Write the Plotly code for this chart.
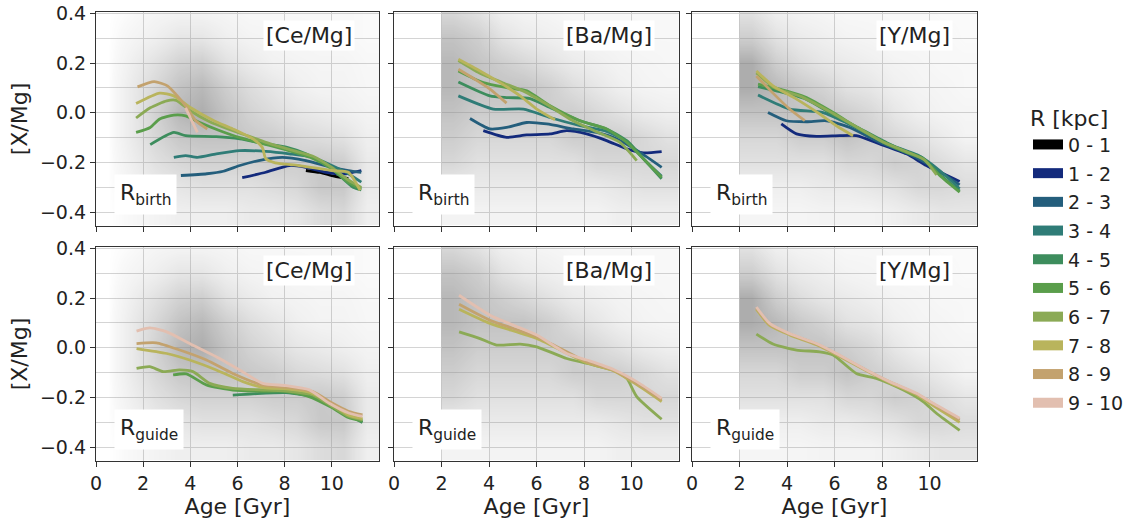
import plotly.graph_objects as go
from plotly.subplots import make_subplots

# ---------------- legend bins ----------------
BIN_LABELS = ["0 - 1", "1 - 2", "2 - 3", "3 - 4", "4 - 5", "5 - 6", "6 - 7", "7 - 8", "8 - 9", "9 - 10"]
BIN_COLORS = ["#000000", "#132a7c", "#245e7c", "#2f7c77", "#3d8d5d", "#5a9e4b",
              "#8baa55", "#b9b45c", "#c3a26e", "#e2bfb0"]

AGE_TICKS = [0, 2, 4, 6, 8, 10]
XMG_TICKS = [-0.4, -0.2, 0.0, 0.2, 0.4]
ELEMENT_LABELS = ["[Ce/Mg]", "[Ba/Mg]", "[Y/Mg]"]
RADIUS_LABELS = ["R<sub>birth</sub>", "R<sub>guide</sub>"]

# ---------------- background star density ----------------
DENS_XMG = [0.4, 0.3, 0.2, 0.1, 0.0, -0.1, -0.2, -0.3, -0.4]          # row centres, top -> bottom
CE_DENS_AGE_EDGES = [0, 1, 2, 3, 4, 5, 6, 7, 8, 9, 10, 11, 12]
CE_DENS = [
    [0, 0.3, 0.8, 1.0, 1.0, 0.8, 0.5, 0.5, 0.5, 0.5, 0.5, 0.3],
    [0, 0.8, 1.5, 2.5, 2.5, 1.5, 1.0, 0.8, 0.6, 0.5, 0.5, 0.3],
    [0, 1.5, 3.0, 4.5, 5.0, 3.0, 2.0, 1.2, 1.0, 0.8, 0.8, 0.5],
    [0, 2.0, 4.0, 6.0, 7.0, 5.0, 3.5, 2.5, 1.5, 1.0, 1.0, 0.6],
    [0, 2.0, 4.5, 7.0, 8.0, 6.0, 4.5, 3.5, 2.5, 2.0, 1.5, 1.0],
    [0, 2.0, 4.0, 5.5, 6.0, 6.0, 5.5, 5.0, 4.0, 3.5, 3.0, 1.5],
    [0, 1.5, 3.0, 4.0, 4.5, 4.5, 4.5, 5.0, 5.0, 5.5, 5.0, 2.0],
    [0, 1.0, 2.0, 2.5, 3.0, 3.0, 3.0, 3.5, 4.0, 5.5, 5.5, 2.0],
    [0, 0.5, 1.0, 1.5, 1.5, 1.5, 2.0, 2.0, 2.5, 3.5, 4.0, 1.5],
]
BAY_DENS_AGE_EDGES = [2, 3, 4, 5, 6, 7, 8, 9, 10, 11, 12]
BA_DENS = [
    [4.0, 3.0, 1.5, 1.0, 0.8, 0.5, 0.5, 0.5, 0.5, 0.5],
    [6.0, 5.0, 3.0, 2.0, 1.5, 1.0, 0.8, 0.7, 0.5, 0.5],
    [7.0, 6.0, 5.0, 4.0, 3.0, 2.0, 1.5, 1.0, 0.8, 0.6],
    [7.0, 6.0, 6.0, 6.0, 5.0, 3.5, 2.5, 1.5, 1.0, 0.8],
    [6.0, 5.0, 5.0, 5.0, 5.0, 5.0, 4.0, 3.0, 2.0, 1.5],
    [5.0, 4.0, 4.0, 4.0, 4.0, 5.0, 5.0, 5.0, 4.0, 3.0],
    [4.0, 3.0, 3.0, 3.0, 3.0, 3.0, 4.0, 4.0, 4.0, 4.0],
    [2.0, 2.0, 2.0, 2.0, 2.0, 2.0, 2.0, 2.5, 3.0, 3.0],
    [1.0, 1.0, 1.0, 1.0, 1.0, 1.0, 1.0, 1.5, 1.5, 1.5],
]
Y_DENS = [
    [3.0, 1.5, 1.0, 0.8, 0.5, 0.5, 0.5, 0.5, 0.3, 0.3],
    [5.0, 3.0, 2.0, 1.5, 1.0, 0.8, 0.5, 0.5, 0.5, 0.3],
    [8.0, 5.0, 3.5, 2.5, 2.0, 1.5, 1.0, 0.8, 0.5, 0.5],
    [8.0, 7.0, 5.5, 4.5, 3.0, 2.5, 1.5, 1.0, 0.8, 0.5],
    [6.0, 6.0, 6.0, 6.0, 5.0, 4.0, 2.5, 1.5, 1.0, 0.8],
    [4.0, 4.0, 5.0, 5.0, 6.0, 5.0, 4.0, 3.0, 2.0, 1.0],
    [3.0, 3.0, 3.0, 3.0, 4.0, 4.0, 5.0, 4.5, 3.5, 2.5],
    [1.5, 1.5, 1.5, 2.0, 2.0, 2.5, 3.0, 4.0, 4.0, 3.5],
    [0.8, 0.8, 0.8, 1.0, 1.0, 1.0, 1.5, 2.0, 2.5, 2.5],
]

# ---------------- running medians: [Ce/Mg] vs R_birth ----------------
CE_BIRTH_AGE_0_1 = [8.9, 9.5, 10.1, 10.7]
CE_BIRTH_VAL_0_1 = [-0.232, -0.240, -0.255, -0.265]
CE_BIRTH_AGE_1_2 = [6.2, 7.2, 8.2, 8.9, 9.75, 10.6, 11.25]
CE_BIRTH_VAL_1_2 = [-0.261, -0.239, -0.212, -0.219, -0.239, -0.245, -0.232]
CE_BIRTH_AGE_2_3 = [3.6, 4.7, 5.4, 6.1, 6.9, 7.9, 8.9, 10.0, 10.7, 11.25]
CE_BIRTH_VAL_2_3 = [-0.252, -0.245, -0.235, -0.212, -0.192, -0.179, -0.192, -0.219, -0.232, -0.239]
CE_BIRTH_AGE_3_4 = [3.3, 3.8, 4.3, 5.1, 6.1, 7.2, 8.2, 9.2, 10.0, 10.7, 11.25]
CE_BIRTH_VAL_3_4 = [-0.179, -0.172, -0.179, -0.165, -0.152, -0.155, -0.165, -0.179, -0.212, -0.245, -0.279]
CE_BIRTH_AGE_4_5 = [2.3, 3.3, 3.8, 5.1, 6.1, 7.2, 8.1, 8.9, 10.0, 10.9, 11.25]
CE_BIRTH_VAL_4_5 = [-0.128, -0.079, -0.092, -0.096, -0.105, -0.125, -0.139, -0.165, -0.225, -0.299, -0.310]
CE_BIRTH_AGE_5_6 = [1.7, 2.3, 2.7, 3.3, 3.8, 4.4, 5.2, 6.1, 7.1, 8.1, 9.1, 10.0, 10.7, 11.25]
CE_BIRTH_VAL_5_6 = [-0.079, -0.059, -0.025, -0.009, -0.012, -0.039, -0.070, -0.100, -0.125, -0.150, -0.180, -0.225, -0.280, -0.305]
CE_BIRTH_AGE_6_7 = [1.7, 2.3, 3.0, 3.4, 4.0, 4.8, 5.6, 6.5, 7.4, 8.3, 9.2, 10.0, 10.7, 11.25]
CE_BIRTH_VAL_6_7 = [-0.021, 0.020, 0.048, 0.050, 0.008, -0.035, -0.065, -0.095, -0.125, -0.150, -0.175, -0.220, -0.270, -0.300]
CE_BIRTH_AGE_7_8 = [1.7, 2.7, 3.3, 4.0, 5.0, 5.8, 6.65, 7.05, 7.2, 7.6, 8.6, 10.0, 10.7, 11.2]
CE_BIRTH_VAL_7_8 = [0.037, 0.079, 0.068, 0.021, -0.032, -0.065, -0.105, -0.139, -0.185, -0.201, -0.212, -0.232, -0.239, -0.312]
CE_BIRTH_AGE_8_9 = [1.76, 2.47, 3.03, 3.38, 3.8, 4.23, 4.72]
CE_BIRTH_VAL_8_9 = [0.104, 0.125, 0.108, 0.075, 0.028, -0.032, -0.065]
CE_BIRTH_AGE_9_10 = [3.8, 4.0, 4.3]
CE_BIRTH_VAL_9_10 = [0.020, -0.020, -0.079]

# ---------------- [Ba/Mg] vs R_birth ----------------
BA_BIRTH_AGE_1_2 = [3.76, 4.74, 5.59, 6.57, 7.27, 8.11, 8.95, 9.8, 10.5, 11.27]
BA_BIRTH_VAL_1_2 = [-0.072, -0.099, -0.089, -0.085, -0.072, -0.085, -0.112, -0.145, -0.161, -0.156]
BA_BIRTH_AGE_2_3 = [3.2, 4.04, 4.74, 5.59, 6.43, 7.55, 8.53, 9.38, 10.36, 11.27]
BA_BIRTH_VAL_2_3 = [-0.023, -0.065, -0.059, -0.039, -0.045, -0.065, -0.079, -0.105, -0.159, -0.219]
BA_BIRTH_AGE_3_4 = [2.71, 4.18, 5.45, 6.57, 7.83, 8.95, 9.8, 10.6, 11.27]
BA_BIRTH_VAL_3_4 = [0.068, 0.015, 0.015, -0.019, -0.052, -0.075, -0.115, -0.195, -0.255]
BA_BIRTH_AGE_4_5 = [2.71, 4.04, 4.74, 5.73, 6.57, 7.83, 8.95, 9.8, 10.64, 11.27]
BA_BIRTH_VAL_4_5 = [0.124, 0.068, 0.061, 0.057, 0.021, -0.032, -0.065, -0.112, -0.199, -0.265]
BA_BIRTH_AGE_5_6 = [2.71, 3.76, 4.74, 5.59, 6.57, 7.83, 8.95, 9.8, 10.5, 11.27]
BA_BIRTH_VAL_5_6 = [0.168, 0.121, 0.101, 0.088, 0.028, -0.032, -0.065, -0.119, -0.185, -0.259]
BA_BIRTH_AGE_6_7 = [2.71, 3.6, 4.6, 5.5, 6.5, 7.5, 8.5, 9.5, 10.22]
BA_BIRTH_VAL_6_7 = [0.210, 0.160, 0.120, 0.085, 0.030, -0.030, -0.075, -0.118, -0.192]
BA_BIRTH_AGE_7_8 = [2.71, 3.62, 4.46, 5.31, 6.01, 6.78]
BA_BIRTH_VAL_7_8 = [0.215, 0.168, 0.121, 0.068, 0.015, -0.028]
BA_BIRTH_AGE_8_9 = [2.71, 3.4, 4.0, 4.74]
BA_BIRTH_VAL_8_9 = [0.175, 0.135, 0.098, 0.039]

# ---------------- [Y/Mg] vs R_birth ----------------
Y_BIRTH_AGE_1_2 = [3.76, 4.4, 5.24, 6.22, 6.92, 7.9, 9.03, 9.87, 11.27]
Y_BIRTH_VAL_1_2 = [-0.045, -0.085, -0.095, -0.092, -0.092, -0.125, -0.165, -0.212, -0.276]
Y_BIRTH_AGE_2_3 = [3.2, 3.97, 4.82, 5.66, 6.64, 7.9, 9.0, 10.0, 11.27]
Y_BIRTH_VAL_2_3 = [0.001, -0.032, -0.036, -0.032, -0.059, -0.119, -0.160, -0.210, -0.290]
Y_BIRTH_AGE_3_4 = [2.78, 4.11, 5.52, 6.5, 7.5, 8.5, 9.5, 10.4, 11.27]
Y_BIRTH_VAL_3_4 = [0.071, 0.015, 0.001, -0.040, -0.090, -0.135, -0.170, -0.230, -0.305]
Y_BIRTH_AGE_4_5 = [2.78, 3.7, 4.8, 5.9, 7.0, 8.2, 9.0, 9.7, 10.4, 11.27]
Y_BIRTH_VAL_4_5 = [0.105, 0.085, 0.055, -0.005, -0.060, -0.120, -0.155, -0.180, -0.245, -0.315]
Y_BIRTH_AGE_5_6 = [2.78, 3.69, 4.82, 5.94, 7.06, 8.19, 9.03, 9.73, 10.43, 11.27]
Y_BIRTH_VAL_5_6 = [0.115, 0.095, 0.061, 0.001, -0.065, -0.125, -0.159, -0.185, -0.252, -0.319]
Y_BIRTH_AGE_6_7 = [2.71, 3.5, 4.6, 5.7, 6.8, 8.0, 9.0, 9.8, 10.3]
Y_BIRTH_VAL_6_7 = [0.160, 0.100, 0.065, 0.010, -0.050, -0.115, -0.155, -0.190, -0.250]
Y_BIRTH_AGE_7_8 = [2.71, 3.41, 4.4, 5.38, 6.08, 6.78]
Y_BIRTH_VAL_7_8 = [0.168, 0.108, 0.055, -0.005, -0.052, -0.092]
Y_BIRTH_AGE_8_9 = [2.71, 3.41, 4.11, 4.75]
Y_BIRTH_VAL_8_9 = [0.148, 0.079, 0.015, -0.032]

# ---------------- [Ce/Mg] vs R_guide ----------------
CE_GUIDE_AGE_4_5 = [5.8, 6.65, 8.06, 9.33, 10.17, 11.3]
CE_GUIDE_VAL_4_5 = [-0.190, -0.185, -0.180, -0.200, -0.243, -0.300]
CE_GUIDE_AGE_5_6 = [3.27, 3.83, 4.68, 5.8, 7.0, 8.0, 9.0, 10.0, 10.7, 11.3]
CE_GUIDE_VAL_5_6 = [-0.109, -0.105, -0.149, -0.170, -0.175, -0.175, -0.195, -0.240, -0.280, -0.295]
CE_GUIDE_AGE_6_7 = [1.72, 2.28, 2.85, 3.55, 4.11, 4.82, 5.8, 7.22, 8.2, 9.2, 10.0, 10.7, 11.3]
CE_GUIDE_VAL_6_7 = [-0.083, -0.076, -0.096, -0.089, -0.096, -0.143, -0.163, -0.170, -0.175, -0.190, -0.235, -0.275, -0.290]
CE_GUIDE_AGE_7_8 = [1.72, 3.0, 3.97, 5.1, 6.23, 7.1, 8.1, 9.1, 10.0, 10.7, 11.3]
CE_GUIDE_VAL_7_8 = [-0.003, -0.023, -0.049, -0.089, -0.136, -0.160, -0.165, -0.180, -0.225, -0.270, -0.285]
CE_GUIDE_AGE_8_9 = [1.72, 2.56, 3.55, 4.68, 5.8, 7.07, 8.2, 9.19, 10.03, 10.7, 11.3]
CE_GUIDE_VAL_8_9 = [0.017, 0.020, -0.009, -0.049, -0.103, -0.150, -0.160, -0.176, -0.223, -0.255, -0.270]
CE_GUIDE_AGE_9_10 = [1.72, 2.28, 3.0, 3.97, 5.1, 6.09, 7.07, 8.06, 9.05, 9.89, 10.74, 11.3]
CE_GUIDE_VAL_9_10 = [0.067, 0.080, 0.064, 0.017, -0.036, -0.089, -0.143, -0.152, -0.169, -0.223, -0.263, -0.276]

# ---------------- [Ba/Mg] vs R_guide ----------------
BA_GUIDE_AGE_6_7 = [2.74, 3.62, 4.32, 5.31, 6.01, 7.27, 8.39, 9.24, 9.8, 10.22, 11.27]
BA_GUIDE_VAL_6_7 = [0.064, 0.037, 0.011, 0.015, 0.004, -0.043, -0.069, -0.090, -0.123, -0.196, -0.287]
BA_GUIDE_AGE_7_8 = [2.74, 4.04, 6.01, 8.11, 9.24, 10.22, 11.27]
BA_GUIDE_VAL_7_8 = [0.155, 0.098, 0.037, -0.060, -0.092, -0.148, -0.216]
BA_GUIDE_AGE_8_9 = [2.74, 4.04, 6.01, 8.11, 9.24, 10.22, 11.27]
BA_GUIDE_VAL_8_9 = [0.175, 0.111, 0.044, -0.056, -0.090, -0.143, -0.209]
BA_GUIDE_AGE_9_10 = [2.74, 4.04, 5.02, 6.01, 7.27, 8.11, 9.24, 10.22, 11.27]
BA_GUIDE_VAL_9_10 = [0.211, 0.131, 0.091, 0.051, -0.023, -0.049, -0.087, -0.136, -0.203]

# ---------------- [Y/Mg] vs R_guide ----------------
Y_GUIDE_AGE_6_7 = [2.71, 3.41, 4.4, 5.38, 5.94, 6.92, 7.76, 8.88, 9.73, 10.29, 11.27]
Y_GUIDE_VAL_6_7 = [0.055, 0.015, -0.009, -0.016, -0.029, -0.103, -0.123, -0.169, -0.216, -0.263, -0.332]
Y_GUIDE_AGE_7_8 = [2.71, 3.27, 4.11, 5.24, 6.08, 7.34, 8.32, 9.45, 10.15, 11.27]
Y_GUIDE_VAL_7_8 = [0.155, 0.090, 0.052, 0.012, -0.028, -0.092, -0.140, -0.188, -0.232, -0.300]
Y_GUIDE_AGE_8_9 = [2.71, 3.27, 4.11, 5.24, 6.08, 7.34, 8.32, 9.45, 10.15, 11.27]
Y_GUIDE_VAL_8_9 = [0.160, 0.095, 0.055, 0.015, -0.025, -0.090, -0.137, -0.185, -0.225, -0.290]
Y_GUIDE_AGE_9_10 = [2.71, 3.27, 4.11, 5.24, 6.08, 7.34, 8.32, 9.45, 10.15, 11.27]
Y_GUIDE_VAL_9_10 = [0.164, 0.098, 0.057, 0.017, -0.023, -0.089, -0.136, -0.183, -0.223, -0.283]

# (row, col) -> list of (bin index, ages, values)
PANEL_LINES = {
    (1, 1): [(0, CE_BIRTH_AGE_0_1, CE_BIRTH_VAL_0_1), (1, CE_BIRTH_AGE_1_2, CE_BIRTH_VAL_1_2),
             (2, CE_BIRTH_AGE_2_3, CE_BIRTH_VAL_2_3), (3, CE_BIRTH_AGE_3_4, CE_BIRTH_VAL_3_4),
             (4, CE_BIRTH_AGE_4_5, CE_BIRTH_VAL_4_5), (5, CE_BIRTH_AGE_5_6, CE_BIRTH_VAL_5_6),
             (6, CE_BIRTH_AGE_6_7, CE_BIRTH_VAL_6_7), (7, CE_BIRTH_AGE_7_8, CE_BIRTH_VAL_7_8),
             (8, CE_BIRTH_AGE_8_9, CE_BIRTH_VAL_8_9), (9, CE_BIRTH_AGE_9_10, CE_BIRTH_VAL_9_10)],
    (1, 2): [(1, BA_BIRTH_AGE_1_2, BA_BIRTH_VAL_1_2), (2, BA_BIRTH_AGE_2_3, BA_BIRTH_VAL_2_3),
             (3, BA_BIRTH_AGE_3_4, BA_BIRTH_VAL_3_4), (4, BA_BIRTH_AGE_4_5, BA_BIRTH_VAL_4_5),
             (5, BA_BIRTH_AGE_5_6, BA_BIRTH_VAL_5_6), (6, BA_BIRTH_AGE_6_7, BA_BIRTH_VAL_6_7),
             (7, BA_BIRTH_AGE_7_8, BA_BIRTH_VAL_7_8), (8, BA_BIRTH_AGE_8_9, BA_BIRTH_VAL_8_9)],
    (1, 3): [(1, Y_BIRTH_AGE_1_2, Y_BIRTH_VAL_1_2), (2, Y_BIRTH_AGE_2_3, Y_BIRTH_VAL_2_3),
             (3, Y_BIRTH_AGE_3_4, Y_BIRTH_VAL_3_4), (4, Y_BIRTH_AGE_4_5, Y_BIRTH_VAL_4_5),
             (5, Y_BIRTH_AGE_5_6, Y_BIRTH_VAL_5_6), (6, Y_BIRTH_AGE_6_7, Y_BIRTH_VAL_6_7),
             (7, Y_BIRTH_AGE_7_8, Y_BIRTH_VAL_7_8), (8, Y_BIRTH_AGE_8_9, Y_BIRTH_VAL_8_9)],
    (2, 1): [(4, CE_GUIDE_AGE_4_5, CE_GUIDE_VAL_4_5), (5, CE_GUIDE_AGE_5_6, CE_GUIDE_VAL_5_6),
             (6, CE_GUIDE_AGE_6_7, CE_GUIDE_VAL_6_7), (7, CE_GUIDE_AGE_7_8, CE_GUIDE_VAL_7_8),
             (8, CE_GUIDE_AGE_8_9, CE_GUIDE_VAL_8_9), (9, CE_GUIDE_AGE_9_10, CE_GUIDE_VAL_9_10)],
    (2, 2): [(6, BA_GUIDE_AGE_6_7, BA_GUIDE_VAL_6_7), (7, BA_GUIDE_AGE_7_8, BA_GUIDE_VAL_7_8),
             (8, BA_GUIDE_AGE_8_9, BA_GUIDE_VAL_8_9), (9, BA_GUIDE_AGE_9_10, BA_GUIDE_VAL_9_10)],
    (2, 3): [(6, Y_GUIDE_AGE_6_7, Y_GUIDE_VAL_6_7), (7, Y_GUIDE_AGE_7_8, Y_GUIDE_VAL_7_8),
             (8, Y_GUIDE_AGE_8_9, Y_GUIDE_VAL_8_9), (9, Y_GUIDE_AGE_9_10, Y_GUIDE_VAL_9_10)],
}
COL_DENSITY = {1: (CE_DENS_AGE_EDGES, CE_DENS), 2: (BAY_DENS_AGE_EDGES, BA_DENS), 3: (BAY_DENS_AGE_EDGES, Y_DENS)}

FONT = "DejaVu Sans"
W, H = 1140, 523
COL_PX = [(96, 379), (394, 679), (692, 977)]     # screen pixels in the reference
ROW_PX = [(12, 226), (247, 461)]
GRID = "#d4d4d4"
AX = "#333333"
TXT = "#222222"


def px_x(p):
    return p / W


def px_y(p):
    return 1 - p / H


fig = make_subplots(rows=2, cols=3)

dens_scale = [[0.0, "rgba(140,140,140,0.0)"], [0.06, "rgba(150,150,150,0.07)"],
              [0.3, "rgba(145,145,145,0.22)"], [0.65, "rgba(140,140,140,0.45)"],
              [1.0, "rgba(130,130,130,0.66)"]]

for r in (1, 2):
    for c in (1, 2, 3):
        edges, dens = COL_DENSITY[c]
        fig.add_trace(go.Heatmap(x=edges, y=DENS_XMG[::-1], z=dens[::-1], zmin=0, zmax=8,
                                 colorscale=dens_scale, showscale=False, zsmooth="best",
                                 hoverinfo="skip"), row=r, col=c)
        for b, ages, vals in PANEL_LINES[(r, c)]:
            fig.add_trace(go.Scatter(x=ages, y=vals, mode="lines",
                                     line=dict(color=BIN_COLORS[b], width=2.8, shape="spline", smoothing=0.6),
                                     showlegend=False, legendgroup=BIN_LABELS[b], hoverinfo="skip"),
                          row=r, col=c)

for b, lab in enumerate(BIN_LABELS):
    fig.add_trace(go.Scatter(x=[None], y=[None], mode="lines", name=lab, legendgroup=lab,
                             line=dict(color=BIN_COLORS[b], width=15), showlegend=True), row=1, col=1)

for r in (1, 2):
    for c in (1, 2, 3):
        x0, x1 = COL_PX[c - 1]
        y0, y1 = ROW_PX[r - 1]
        fig.update_xaxes(row=r, col=c, domain=[px_x(x0), px_x(x1)], range=[0, 12], automargin=False,
                         tickvals=AGE_TICKS, ticks="outside", ticklen=5, tickwidth=1, tickcolor=AX,
                         showticklabels=(r == 2), showline=True, mirror=True, linecolor=AX, linewidth=1.2,
                         showgrid=True, gridcolor=GRID, gridwidth=1, zeroline=False, ticklabeloverflow="allow",
                         tickfont=dict(family=FONT, size=19, color=TXT),
                         title=dict(text="Age [Gyr]" if r == 2 else "", font=dict(family=FONT, size=22, color=TXT), standoff=2))
        fig.update_yaxes(row=r, col=c, domain=[px_y(y1), px_y(y0)], range=[-0.455, 0.405], automargin=False,
                         tickvals=XMG_TICKS, tickformat=".1f", ticks="outside", ticklen=5, tickwidth=1, tickcolor=AX,
                         showticklabels=(c == 1), showline=True, mirror=True, linecolor=AX, linewidth=1.2,
                         showgrid=True, gridcolor=GRID, gridwidth=1, zeroline=False, ticklabeloverflow="allow",
                         minor=dict(dtick=0.1, tick0=0, showgrid=True, gridcolor=GRID, gridwidth=1),
                         tickfont=dict(family=FONT, size=19, color=TXT),
                         title=dict(text="[X/Mg]" if c == 1 else "", font=dict(family=FONT, size=22, color=TXT), standoff=6))
        idx = (r - 1) * 3 + c
        xr = "x" if idx == 1 else f"x{idx}"
        yr = "y" if idx == 1 else f"y{idx}"
        fig.add_annotation(x=11.0, y=0.31, xref=xr, yref=yr, text=ELEMENT_LABELS[c - 1], showarrow=False,
                           xanchor="right", yanchor="middle", bgcolor="white", borderpad=2,
                           font=dict(family=FONT, size=22, color=TXT))
        fig.add_annotation(x=0.75, y=-0.33, xref=xr, yref=yr, text=RADIUS_LABELS[r - 1], showarrow=False,
                           xanchor="left", yanchor="middle", bgcolor="white", borderpad=5,
                           font=dict(family=FONT, size=22, color=TXT))

fig.update_layout(
    width=W, height=H, margin=dict(l=0, r=0, t=0, b=0),
    paper_bgcolor="white", plot_bgcolor="white",
    font=dict(family=FONT, color=TXT),
    legend=dict(x=px_x(1028), y=px_y(97), xanchor="left", yanchor="top",
                title=dict(text="R [kpc]", font=dict(family=FONT, size=22, color=TXT), side="top"),
                font=dict(family=FONT, size=19, color=TXT), tracegroupgap=1,
                bgcolor="rgba(0,0,0,0)"),
)

# place the figure at the page's top-left corner (remove the default body margin)
fig.write_html("out.html", config={"displayModeBar": False},
               post_script="document.body.style.margin='0px';")
